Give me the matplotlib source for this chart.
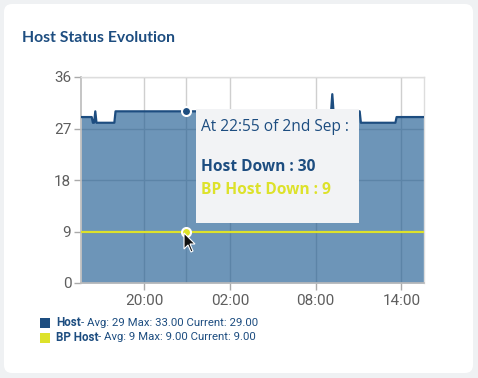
import matplotlib
matplotlib.use("Agg")
import matplotlib.pyplot as plt
import matplotlib.dates as mdates
from matplotlib.patches import FancyBboxPatch, Rectangle, Polygon
from matplotlib.transforms import IdentityTransform
import pandas as pd

# ---------------- data ----------------
host_times = ["2024-09-02 15:35", "2024-09-02 16:20", "2024-09-02 16:25", "2024-09-02 16:30",
              "2024-09-02 16:35", "2024-09-02 16:40", "2024-09-02 17:55", "2024-09-02 18:00",
              "2024-09-03 09:05", "2024-09-03 09:10", "2024-09-03 09:15", "2024-09-03 11:05",
              "2024-09-03 11:10", "2024-09-03 13:35", "2024-09-03 13:40", "2024-09-03 15:35"]
host_values = [29, 29, 28, 28, 30, 28, 28, 30, 30, 33, 30, 30, 28, 28, 29, 29]
bp_times = ["2024-09-02 15:35", "2024-09-03 15:35"]
bp_values = [9, 9]
hover_time = "2024-09-02 22:55"
hover_host = 30
hover_bp = 9
y_ticks = [0, 9, 18, 27, 36]
title = "Host Status Evolution"
tooltip_head = "At 22:55 of 2nd Sep :"
tooltip_host = "Host Down : 30"
tooltip_bp = "BP Host Down : 9"
legend_names = ["Host", "BP Host"]
legend_stats = ["- Avg: 29 Max: 33.00 Current: 29.00", "- Avg: 9 Max: 9.00 Current: 9.00"]

# ---------------- style ----------------
W, H = 478, 378
DARK = "#1d4d80"
YEL = "#dde22a"
FILL = "#1f5c92"
GRID = "#cfcfcf"
TICKC = "#5e5e5e"
FONT = "Roboto"
TIPFONT = "Open Sans"

fig = plt.figure(figsize=(W / 100, H / 100), dpi=100, facecolor="#eff1f3")
ID = IdentityTransform()


def px(x, y):
    return (x, H - y)


# card
card = FancyBboxPatch(px(4, 373), 469, 369, boxstyle="round,pad=0,rounding_size=8",
                      transform=ID, facecolor="white", edgecolor="none", zorder=-5)
fig.patches.append(card)

fig.text(*px(22, 38), title, transform=ID, fontsize=11.3, fontweight="bold", color=DARK,
         family="Lato", va="center", ha="left")

ax = fig.add_axes([81 / W, 1 - 283 / H, (424 - 81) / W, (283 - 77) / H])
ax.set_facecolor("none")

ht = pd.to_datetime(host_times)
bt = pd.to_datetime(bp_times)
hv = pd.to_datetime(hover_time)

ax.fill_between(ht, host_values, 0, color=FILL, alpha=0.65, lw=0, zorder=2)
ax.plot(ht, host_values, color=DARK, lw=1.6, zorder=3)
ax.plot(bt, bp_values, color=YEL, lw=1.6, zorder=3)
ax.axvline(hv, color=GRID, lw=1, zorder=1)

ax.plot([hv], [hover_host], "o", ms=6.5, mfc=DARK, mec="white", mew=1.5, zorder=5, clip_on=False)
ax.plot([hv], [hover_bp], "o", ms=6.5, mfc=YEL, mec="white", mew=1.5, zorder=5)

ax.set_xlim(bt[0], bt[-1])
ax.set_ylim(0, 36)
ax.set_yticks(y_ticks)
ax.xaxis.set_major_locator(mdates.HourLocator(byhour=[2, 8, 14, 20]))
ax.xaxis.set_major_formatter(mdates.DateFormatter("%H:%M"))
ax.grid(True, color=GRID, lw=1, zorder=1)
ax.set_axisbelow(True)
for s in ["left", "bottom"]:
    ax.spines[s].set_color("#bbbbbb")
    ax.spines[s].set_linewidth(1.2)
for s in ["top", "right"]:
    ax.spines[s].set_color("#dddddd")
    ax.spines[s].set_linewidth(1)
ax.tick_params(axis="both", colors="#aaaaaa", labelcolor=TICKC, labelsize=11, length=5, width=1)
for lab in ax.get_xticklabels() + ax.get_yticklabels():
    lab.set_family(FONT)
ax.tick_params(axis="y", pad=2)
ax.tick_params(axis="x", pad=3)

# tooltip
tip = Rectangle(px(196, 223), 163, 114, transform=ID, facecolor="#f2f3f5", edgecolor="none", zorder=10)
fig.patches.append(tip)
fig.text(*px(201, 127), tooltip_head, transform=ID, fontsize=11.2, color=DARK, family=TIPFONT,
         va="center", ha="left", zorder=11)
fig.text(*px(201, 167), tooltip_host, transform=ID, fontsize=11.2, fontweight="bold", color=DARK,
         family=TIPFONT, va="center", ha="left", zorder=11)
fig.text(*px(201, 190), tooltip_bp, transform=ID, fontsize=11.2, fontweight="bold", color=YEL,
         family=TIPFONT, va="center", ha="left", zorder=11)

# cursor
cur = Polygon([px(184, 233), px(184, 249), px(188, 245), px(191, 252), px(193, 251),
               px(190, 244), px(195, 244)], closed=True, transform=ID, facecolor="#111111",
              edgecolor="white", lw=0.8, zorder=12)
fig.patches.append(cur)

# legend
for i, (name, stat, col) in enumerate(zip(legend_names, legend_stats, [DARK, YEL])):
    yc = 323 + i * 14.5
    fig.patches.append(Rectangle(px(40, yc + 5), 10, 10, transform=ID, facecolor=col, edgecolor="none"))
    t = fig.text(*px(56, yc), name, transform=ID, fontsize=8.4, fontweight="bold", color=DARK,
                 family=FONT, va="center", ha="left")
    ax.annotate(stat, xy=(1, 0.5), xycoords=t, va="center", ha="left", fontsize=8.2,
                color=DARK, family=FONT, annotation_clip=False)

fig.savefig("out.png", dpi=100, facecolor=fig.get_facecolor())
